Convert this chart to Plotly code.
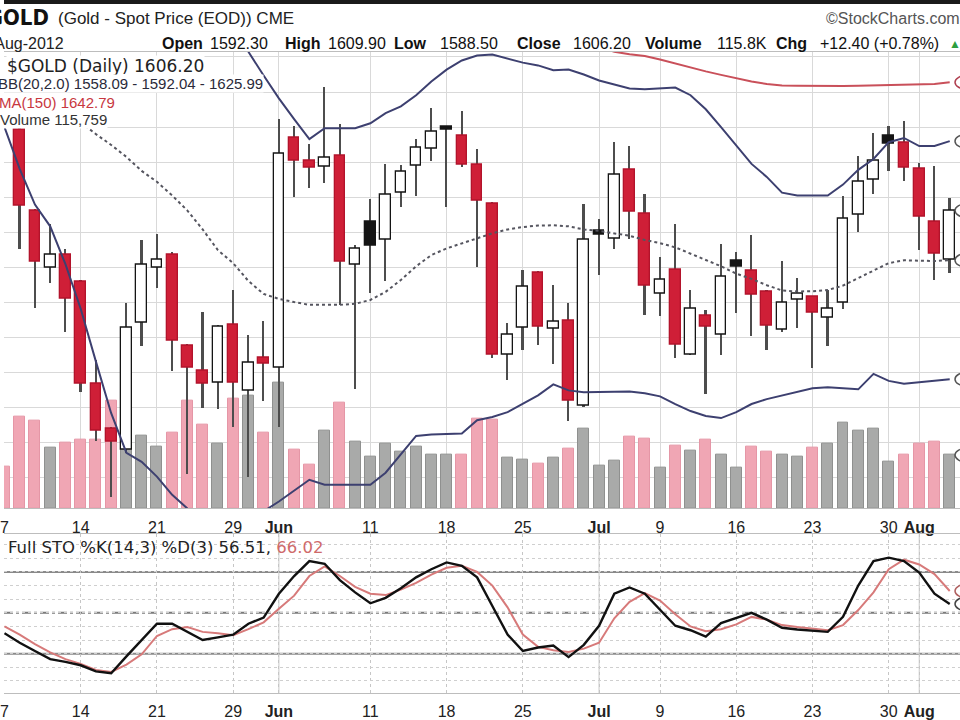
import plotly.graph_objects as go
import pandas as pd

# ------------------------------------------------------------------ data
holidays = ["2012-05-28", "2012-07-04"]
trading_days = [d for d in pd.bdate_range("2012-05-07", "2012-08-03")
                if d.strftime("%Y-%m-%d") not in holidays]
date_labels = [d.strftime("%Y-%m-%d") for d in trading_days]

opens = [None, 1629.2, 1606.3, 1589.8, 1593.5, 1586.0, 1556.7, 1544.0, 1537.9, 1574.2,
         1589.8, 1593.5, 1567.6, 1560.5, 1557.2, 1573.7, 1554.8, 1564.1, 1561.4, 1627.1,
         1620.4, 1618.8, 1621.9, 1590.7, 1603.0, 1597.8, 1611.3, 1619.0, 1624.0, 1630.1,
         1627.5, 1619.2, 1608.2, 1565.2, 1572.8, 1588.6, 1572.6, 1574.7, 1550.6, 1600.6,
         1598.1, 1617.9, 1605.4, 1582.4, 1589.3, 1565.2, 1576.1, 1570.9, 1591.8, 1589.0,
         1583.2, 1572.3, 1580.8, 1581.5, 1575.6, 1579.9, 1604.9, 1615.1, 1627.5, 1625.5,
         1618.1, 1603.0, 1592.3]
highs = [None, 1630.0, 1606.8, 1602.5, 1595.4, 1586.5, 1563.8, 1544.5, 1579.9, 1597.8,
         1599.7, 1594.5, 1568.1, 1577.5, 1573.7, 1583.6, 1570.9, 1574.7, 1632.3, 1630.4,
         1625.2, 1641.5, 1630.9, 1596.4, 1609.6, 1619.5, 1619.2, 1626.6, 1635.6, 1630.4,
         1634.6, 1623.8, 1608.8, 1574.2, 1589.3, 1589.0, 1585.0, 1579.9, 1608.2, 1604.0,
         1625.8, 1624.7, 1611.0, 1593.1, 1602.5, 1583.6, 1578.0, 1596.9, 1594.5, 1599.2,
         1583.6, 1591.8, 1587.0, 1581.8, 1583.6, 1610.4, 1621.9, 1628.5, 1630.4, 1631.8,
         1620.0, 1619.0, 1609.9]
lows = [None, 1595.4, 1578.4, 1585.5, 1571.8, 1554.4, 1540.7, 1524.6, 1537.0, 1567.6,
        1584.1, 1560.5, 1531.2, 1550.1, 1549.6, 1544.5, 1530.3, 1552.0, 1544.5, 1610.1,
        1612.6, 1614.3, 1579.4, 1555.3, 1582.7, 1586.2, 1607.2, 1610.4, 1620.4, 1607.2,
        1618.6, 1590.3, 1564.3, 1558.1, 1566.6, 1568.0, 1562.4, 1546.3, 1550.3, 1587.9,
        1595.4, 1598.3, 1576.5, 1576.1, 1564.3, 1565.0, 1553.9, 1565.2, 1577.0, 1570.4,
        1566.6, 1571.8, 1572.8, 1561.4, 1567.6, 1578.2, 1600.3, 1611.0, 1617.6, 1614.8,
        1595.0, 1586.5, 1588.5]
closes = [None, 1607.7, 1591.7, 1593.5, 1581.1, 1556.7, 1543.5, 1540.2, 1572.8, 1590.7,
          1592.1, 1569.0, 1561.4, 1556.7, 1573.0, 1557.2, 1562.9, 1562.4, 1622.4, 1620.4,
          1618.3, 1621.4, 1591.7, 1595.2, 1596.2, 1610.7, 1617.2, 1624.2, 1628.8, 1629.2,
          1619.2, 1609.1, 1565.2, 1570.9, 1584.6, 1573.0, 1574.4, 1552.0, 1597.8, 1599.4,
          1616.4, 1605.8, 1584.9, 1586.5, 1567.9, 1578.2, 1573.0, 1587.4, 1590.2, 1582.2,
          1573.5, 1579.9, 1582.4, 1577.0, 1578.2, 1603.9, 1614.5, 1620.4, 1625.2, 1618.3,
          1604.4, 1593.8, 1606.2]
volume_k = [90.5, 198.3, 191.2, 132.1, 142.3, 149.4, 149.4, 234.3, 198.3, 158.9,
            133.7, 163.8, 234.3, 182.6, 140.8, 237.8, 245.1, 163.8, 273.8, 127.8,
            94.2, 168.1, 230.7, 144.4, 112.1, 140.8, 122.9, 133.7, 115.8, 115.8,
            115.8, 194.7, 192.5, 110.6, 106.3, 96.4, 110.6, 130.0, 173.1, 92.0,
            103.5, 155.2, 151.5, 89.0, 137.3, 126.5, 149.4, 115.8, 89.0, 133.7,
            122.9, 115.8, 112.1, 132.1, 140.8, 185.4, 168.1, 173.1, 101.3, 115.8,
            140.8, 144.4, 115.759]
bb_upper = [None] * 15 + [
    1657.2, 1651.5, 1644.7, 1638.2, 1632.3, 1626.6, 1629.7, 1629.7, 1629.7, 1631.1,
    1634.0, 1635.9, 1639.1, 1643.0, 1646.4, 1649.0, 1650.4, 1650.7, 1649.5, 1648.4,
    1647.6, 1646.2, 1646.4, 1645.0, 1643.3, 1642.2, 1641.0, 1640.8, 1641.0, 1641.3,
    1639.1, 1635.1, 1630.0, 1624.6, 1619.5, 1615.8, 1611.3, 1610.5, 1610.5, 1610.5,
    1613.6, 1617.8, 1620.9, 1625.7, 1626.9, 1624.6, 1624.6, 1625.99]
bb_mid = [None, None, None, None, None, 1631.4, 1628.0, 1624.9, 1621.5, 1617.5,
          1614.4, 1610.5, 1606.2, 1600.8, 1594.9, 1591.2, 1586.1, 1582.4, 1581.0, 1580.1,
          1579.3, 1579.3, 1579.3, 1579.6, 1580.7, 1583.0, 1586.4, 1590.3, 1593.5, 1595.4,
          1596.9, 1598.3, 1599.7, 1600.8, 1601.5, 1601.9, 1602.0, 1601.7, 1600.8, 1600.4,
          1599.8, 1599.0, 1597.8, 1596.9, 1595.7, 1594.0, 1592.1, 1590.3, 1588.2, 1586.7,
          1584.9, 1583.4, 1583.1, 1583.2, 1583.5, 1584.8, 1587.0, 1589.2, 1591.2, 1592.0,
          1592.0, 1591.8, 1592.04]
bb_lower = [1630.0, 1618.1, 1607.9, 1601.7, 1590.9, 1578.2, 1563.1, 1548.4, 1537.1, 1534.5,
            1530.3, 1525.1, 1521.2, 1517.5, 1514.7, 1514.7, 1517.0, 1520.4, 1523.2, 1526.3,
            1529.4, 1528.0, 1528.0, 1528.0, 1528.0, 1531.4, 1536.5, 1541.9, 1542.3, 1542.5,
            1542.6, 1546.4, 1547.3, 1548.7, 1551.0, 1553.5, 1556.6, 1554.9, 1554.4, 1554.4,
            1554.4, 1554.6, 1554.1, 1553.2, 1551.0, 1549.0, 1547.6, 1547.0, 1548.7, 1551.0,
            1552.4, 1553.5, 1554.6, 1555.5, 1555.8, 1555.5, 1555.2, 1559.6, 1557.6, 1556.8,
            1557.2, 1557.6, 1558.09]
ma150 = [None] * 39 + [
    1652.9, 1651.5, 1650.8, 1650.3, 1649.3, 1648.1, 1647.0, 1645.9, 1644.9, 1643.9,
    1643.0, 1642.3, 1641.9, 1641.8, 1641.7, 1641.7, 1641.7, 1641.8, 1641.9, 1642.2,
    1642.3, 1642.3, 1642.3, 1642.79]
sto_k = [35, 28, 22, 16, 14, 11.5, 7, 5.6, 18, 30,
         42, 42, 36, 30, 32, 34, 42, 46.5, 64, 77,
         88, 86, 74, 65, 57, 61, 68, 76, 82, 87,
         84.5, 76, 55, 34, 22, 24.5, 26, 17.5, 26.5, 40.5,
         64, 68.6, 64, 52, 40.5, 37.2, 32.5, 42.5, 46, 50,
         45, 39, 37.7, 37, 36, 47, 70, 88, 90.5, 88,
         79.5, 64, 56.51]
sto_d = [40, 34, 27, 21, 16, 12.5, 8, 6.6, 12, 19.5,
         33, 38, 39.5, 36, 35, 33.5, 38, 43, 53, 62.6,
         77, 84, 77, 69, 64, 63, 67, 72, 78, 83,
         84.5, 80, 70, 54, 34, 25, 22.5, 21.3, 23.7, 28,
         46, 58, 64.5, 59, 49, 40, 36.5, 38, 41.5, 47,
         45, 41, 39.5, 38.4, 37.2, 41, 52, 65, 82, 89,
         85.5, 78.4, 66.02]

tick_dates = ["2012-05-07", "2012-05-14", "2012-05-21", "2012-05-29", "2012-06-01",
              "2012-06-11", "2012-06-18", "2012-06-25", "2012-07-02", "2012-07-09",
              "2012-07-16", "2012-07-23", "2012-07-30", "2012-08-01"]
tick_text = ["7", "14", "21", "29", "Jun", "11", "18", "25", "Jul", "9", "16", "23", "30", "Aug"]
month_ticks = ["Jun", "Jul", "Aug"]

# ------------------------------------------------------------------ helpers
W, H = 960, 720
def px(x):
    return x / W
def py(y):
    return 1 - y / H

idx = list(range(len(date_labels)))
tickvals = [date_labels.index(d) for d in tick_dates]
ticktext = [f"<b>{t}</b>" if t in month_ticks else t for t in tick_text]
month_idx = [v for v, t in zip(tickvals, tick_text) if t in month_ticks]

RED = "#cf1f37"
RED_LINE = "#b3132b"
BLACK = "#141414"
PINK = "#f0a6b4"
PINK_LINE = "#e596a6"
GRAY = "#a9aaa9"
GRAY_LINE = "#8f908f"
NAVY = "#3d4070"

# candles
wx, wb, wh = [], [], []
bx, bb, bh, bfill, bline = [], [], [], [], []
for i in idx:
    o, h, l, c = opens[i], highs[i], lows[i], closes[i]
    if o is None:
        continue
    prev = closes[i - 1] if i > 0 else None
    down = prev is None or c < prev
    wx.append(i); wb.append(l); wh.append(h - l)
    bx.append(i); bb.append(min(o, c)); bh.append(max(abs(c - o), 0.45))
    if c < o:
        bfill.append(RED if down else BLACK)
        bline.append(RED_LINE if down else BLACK)
    else:
        bfill.append("white")
        bline.append(RED_LINE if down else BLACK)

vfill, vline = [], []
for i in idx:
    prev = closes[i - 1] if i > 0 else None
    c = closes[i]
    down = c is None or prev is None or c < prev
    vfill.append(PINK if down else GRAY)
    vline.append(PINK_LINE if down else GRAY_LINE)

fig = go.Figure()

# volume (base axis, drawn first / beneath)
fig.add_trace(go.Bar(x=idx, y=volume_k, width=0.72, xaxis="x", yaxis="y",
                     marker=dict(color=vfill, line=dict(color=vline, width=1)),
                     hoverinfo="skip"))
# wicks
fig.add_trace(go.Bar(x=wx, y=wh, base=wb, width=0.11, xaxis="x", yaxis="y2",
                     marker=dict(color="#4d4d4d", line=dict(width=0)), hoverinfo="skip"))
# bodies
fig.add_trace(go.Bar(x=bx, y=bh, base=bb, width=0.70, xaxis="x", yaxis="y2",
                     marker=dict(color=bfill, line=dict(color=bline, width=1.3)),
                     hoverinfo="skip"))
# overlays
fig.add_trace(go.Scatter(x=idx, y=bb_mid, mode="lines", xaxis="x", yaxis="y2",
                         line=dict(color="#55555f", width=2, dash="dot"), hoverinfo="skip"))
fig.add_trace(go.Scatter(x=idx, y=bb_upper, mode="lines", xaxis="x", yaxis="y2",
                         line=dict(color=NAVY, width=2), hoverinfo="skip"))
fig.add_trace(go.Scatter(x=idx, y=bb_lower, mode="lines", xaxis="x", yaxis="y2",
                         line=dict(color=NAVY, width=2), hoverinfo="skip"))
fig.add_trace(go.Scatter(x=idx, y=ma150, mode="lines", xaxis="x", yaxis="y2",
                         line=dict(color="#c9505a", width=2), hoverinfo="skip"))
# stochastics
fig.add_trace(go.Scatter(x=idx, y=sto_d, mode="lines", xaxis="x2", yaxis="y3",
                         line=dict(color="#d77a7a", width=2), hoverinfo="skip"))
fig.add_trace(go.Scatter(x=idx, y=sto_k, mode="lines", xaxis="x2", yaxis="y3",
                         line=dict(color="#111111", width=2.4), hoverinfo="skip"))

# ------------------------------------------------------------------ layout
day_px = 15.31
r0 = -0.03
r1 = r0 + W / day_px
price_top, price_bot = 1651.53, 1521.22
vol_top = 460 * 2.1557
sto_top, sto_bot = 107.65, -8.97

tickfont = dict(family="Liberation Sans, Arial, sans-serif", size=16, color="#222")
common_x = dict(range=[r0, r1], tickvals=tickvals, ticktext=ticktext, tickfont=tickfont,
                ticks="", showline=True, mirror=True, linecolor="#bdbdbd", linewidth=1,
                zeroline=False, ticklabeloverflow="allow", ticklabelstandoff=4)

fig.update_layout(
    width=W, height=H, margin=dict(l=0, r=0, t=0, b=0),
    paper_bgcolor="white", plot_bgcolor="white",
    showlegend=False, barmode="overlay", bargap=0,
    xaxis=dict(domain=[0, 1], anchor="y", showgrid=True, gridcolor="#d9d9d9",
               gridwidth=1, **common_x),
    xaxis2=dict(domain=[0, 1], anchor="y3", matches="x", showgrid=True,
                gridcolor="#c6c6c6", griddash="dot", gridwidth=1, **common_x),
    yaxis=dict(domain=[py(512), py(52)], range=[0, vol_top], showgrid=False,
               showticklabels=False, zeroline=False, ticks=""),
    yaxis2=dict(overlaying="y", range=[price_bot, price_top], tick0=0, dtick=10,
                showgrid=True, gridcolor="#d9d9d9", gridwidth=1,
                showticklabels=False, zeroline=False, ticks="", side="right"),
    yaxis3=dict(domain=[py(698), py(538)], range=[sto_bot, sto_top], tick0=0, dtick=10,
                showgrid=True, gridcolor="#cfcfcf", griddash="dot",
                showticklabels=False, zeroline=False, ticks=""),
)

shapes = []
# stochastic reference levels
for lvl, dash, col in [(80, "solid", "#8a8a8a"), (20, "solid", "#8a8a8a"), (50, "dashdot", "#7a7a7a")]:
    shapes.append(dict(type="line", xref="x2 domain", x0=0, x1=1, yref="y3", y0=lvl, y1=lvl,
                       line=dict(color=col, width=2, dash=dash), layer="below"))
# month separators in the stochastic panel
for m in month_idx:
    shapes.append(dict(type="line", xref="x2", x0=m, x1=m, yref="y3 domain", y0=0, y1=1,
                       line=dict(color="#c8c8c8", width=1), layer="below"))
# top dark border of the picture
shapes.append(dict(type="rect", xref="paper", yref="paper", x0=0, x1=1, y0=py(4), y1=1,
                   fillcolor="#1a1a1a", line=dict(width=0)))
# right-edge value tags (mostly cut off)
def tag(yref, val, col):
    shapes.append(dict(type="circle", xref="paper", xsizemode="pixel", xanchor=1,
                       x0=-5, x1=20, yref=yref, ysizemode="pixel", yanchor=val,
                       y0=-7, y1=7, line=dict(color=col, width=1.5), fillcolor="white"))
tag("y2", ma150[-1], "#b04050")
tag("y2", bb_upper[-1], "#555")
tag("y2", closes[-1], "#555")
tag("y2", bb_mid[-1], "#555")
tag("y2", bb_lower[-1], "#555")
tag("y", volume_k[-1], "#555")
tag("y3", sto_d[-1], "#b06060")
tag("y3", sto_k[-1], "#444")
fig.update_layout(shapes=shapes)

SANS = "Liberation Sans, Arial, sans-serif"
NARROW = "Liberation Sans Narrow, Arial Narrow, DejaVu Sans Condensed, Liberation Sans, Arial"
DJ = "DejaVu Sans, Verdana, sans-serif"

anns = []
def ann(text, x, y, size, family=SANS, color="#111", xanchor="left", bg=None):
    d = dict(text=text, x=px(x), y=py(y), xref="paper", yref="paper", xanchor=xanchor,
             yanchor="middle", showarrow=False, font=dict(size=size, family=family, color=color))
    if bg:
        d.update(bgcolor=bg, borderpad=0)
    anns.append(d)

last_o, last_h, last_l, last_c = opens[-1], highs[-1], lows[-1], closes[-1]
chg = last_c - closes[-2]
chg_pct = chg / closes[-2] * 100

ann("<b>$GOLD</b>", 47, 18, 22, NARROW, "#111", xanchor="right")
ann("(Gold - Spot Price (EOD)) CME", 52, 19, 17, SANS, "#222")
ann("©StockCharts.com", 962, 19, 16, SANS, "#555", xanchor="right")
ann(trading_days[-1].strftime("%-d-%b-%Y"), 62, 44, 16, SANS, "#222", xanchor="right")
row2 = [("<b>Open</b>", 157), (f"{last_o:.2f}", 205), ("<b>High</b>", 280), (f"{last_h:.2f}", 323),
        ("<b>Low</b>", 390), (f"{last_l:.2f}", 436), ("<b>Close</b>", 513), (f"{last_c:.2f}", 569),
        ("<b>Volume</b>", 642), (f"{volume_k[-1]:.1f}K", 714), ("<b>Chg</b>", 773),
        (f"{chg:+.2f} ({chg_pct:+.2f}%)", 817)]
for t, x in row2:
    ann(t, x, 44, 16, SANS, "#111")
ann("▲", 947, 44, 12, SANS, "#2e9e3e")

ann(f"$GOLD (Daily) {last_c:.2f}", 2, 66, 17, DJ, "#222", bg="white")
ann(f"BB(20,2.0) {bb_lower[-1]:.2f} - {bb_mid[-1]:.2f} - {bb_upper[-1]:.2f}", -7, 84, 15,
    SANS, "#2a2a3a", bg="white")
ann(f"MA(150) {ma150[-1]:.2f}", -6, 103, 15, SANS, "#c8383f", bg="white")
ann(f"Volume {volume_k[-1] * 1000:,.0f}", -5, 120, 15, SANS, "#333", bg="white")

ann(f"Full STO %K(14,3) %D(3) {sto_k[-1]:.2f}, "
    f"<span style='color:#cf6a6a'>{sto_d[-1]:.2f}</span>", 2, 551, 16.5, DJ, "#222")

fig.update_layout(annotations=anns)
fig.write_html("out.html")
